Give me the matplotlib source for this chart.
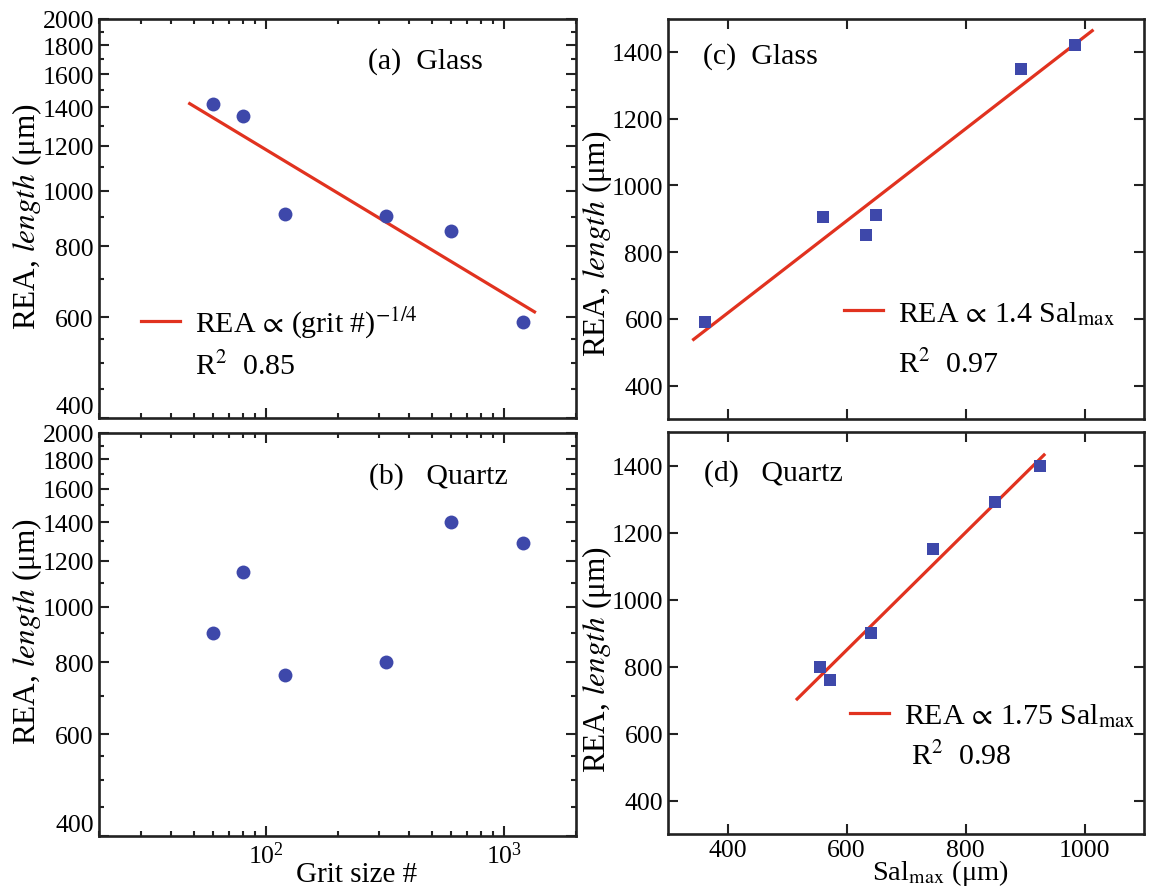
import numpy as np
import matplotlib
matplotlib.use("Agg")
import matplotlib.pyplot as plt
from matplotlib.lines import Line2D
from matplotlib.ticker import FixedLocator, FixedFormatter, LogLocator, NullFormatter

plt.rcParams['font.family'] = ['Liberation Serif', 'DejaVu Serif']
plt.rcParams['mathtext.fontset'] = 'stix'

# ---------------- data ----------------
grit = [60, 80, 120, 320, 600, 1200]
rea_glass = [1420, 1350, 910, 905, 850, 590]
rea_quartz = [900, 1150, 760, 800, 1400, 1290]

salmax_glass = [363, 560, 632, 649, 894, 984]
salmax_quartz = [555, 572, 641, 745, 850, 925]
rea_glass_c = [590, 905, 850, 910, 1350, 1420]
rea_quartz_d = [800, 760, 900, 1150, 1290, 1400]

fit_range_a = [48, 1340]
fit_range_c = [343, 1013]
fit_range_d = [517, 932]

label_a = r"REA$\,\propto\,$(grit #)$^{-1/4}$"
label_c = r"REA$\,\propto\,$1.4 Sal$_{\rm max}$"
label_d = r"REA$\,\propto\,$1.75 Sal$_{\rm max}$"
r2_a = r"R$^2$  0.85"
r2_c = r"R$^2$  0.97"
r2_d = r" R$^2$  0.98"

log_y_major = [400, 600, 800, 1000, 1200, 1400, 1600, 1800, 2000]
log_y_minor = [450, 500, 550, 700, 900, 1100, 1300, 1500, 1700, 1900]
lin_x_ticks = [400, 600, 800, 1000]
lin_y_ticks = [400, 600, 800, 1000, 1200, 1400]

BLUE = '#3e48aa'
RED = '#e1321f'
TICKFS = 18.5
LABFS = 22.5
TXTFS = 21.5

W, H = 1153, 887
fig = plt.figure(figsize=(W / 100, H / 100), dpi=100)


def rect(l, r, t, b):
    return [l / W, 1 - b / H, (r - l) / W, (b - t) / H]


ax_a = fig.add_axes(rect(99, 576, 20, 419))
ax_b = fig.add_axes(rect(99, 576, 434, 837))
ax_c = fig.add_axes(rect(668, 1144, 19.5, 420))
ax_d = fig.add_axes(rect(668, 1144, 433, 835))

ylabel = r"REA, $\mathit{length}$ (μm)"


def style(ax):
    for s in ax.spines.values():
        s.set_linewidth(1.9)
        s.set_color('#222222')
    ax.tick_params(which='both', direction='in', top=True, right=True,
                   labelsize=TICKFS, pad=3.6, color='#222222', width=1.5)
    ax.tick_params(which='major', length=7)
    ax.tick_params(which='minor', length=3.5)


# ---- log panels (a), (b) ----
for ax, yv in ((ax_a, rea_glass), (ax_b, rea_quartz)):
    ax.set_xscale('log')
    ax.set_yscale('log')
    ax.set_xlim(20, 2000)
    ax.set_ylim(400, 2000)
    ax.plot(grit, yv, 'o', color=BLUE, markersize=10, markeredgewidth=0, zorder=3)
    ax.yaxis.set_major_locator(FixedLocator(log_y_major))
    ax.yaxis.set_major_formatter(FixedFormatter([str(v) for v in log_y_major]))
    ax.yaxis.set_minor_locator(FixedLocator(log_y_minor))
    ax.yaxis.set_minor_formatter(NullFormatter())
    ax.xaxis.set_major_locator(LogLocator(base=10, numticks=10))
    ax.xaxis.set_minor_locator(LogLocator(base=10, subs=np.arange(2, 10), numticks=10))
    ax.xaxis.set_minor_formatter(NullFormatter())
    style(ax)
    ax.set_ylabel(ylabel, fontsize=LABFS, va='center')
    # bottom label sits inside the axis end
    ticks = ax.yaxis.get_major_ticks()
    ticks[0].label1.set_va('bottom')

ax_a.yaxis.set_label_coords(-0.151, 0.506)
ax_b.yaxis.set_label_coords(-0.151, 0.509)
ax_a.tick_params(labelbottom=False)

# fit (a): power law in log space
pa = np.polyfit(np.log10(grit), np.log10(rea_glass), 1)
xa = np.array(fit_range_a, dtype=float)
ax_a.plot(xa, 10 ** np.polyval(pa, np.log10(xa)), color=RED, lw=2.3, zorder=2)

ax_a.text(0.564, 0.895, "(a)  Glass", transform=ax_a.transAxes, fontsize=TXTFS,
          va='center', ha='left')
ax_b.text(0.566, 0.894, "(b)   Quartz", transform=ax_b.transAxes, fontsize=TXTFS,
          va='center', ha='left')

ax_b.set_xlabel("Grit size #", fontsize=21, va='top')
ax_b.xaxis.set_label_coords(0.541, -0.062)

# ---- linear panels (c), (d) ----
for ax, xv, yv in ((ax_c, salmax_glass, rea_glass_c), (ax_d, salmax_quartz, rea_quartz_d)):
    ax.set_xlim(300, 1100)
    ax.set_ylim(300, 1500)
    ax.plot(xv, yv, 's', color=BLUE, markersize=8.5, markeredgewidth=0, zorder=3)
    ax.set_xticks(lin_x_ticks)
    ax.set_yticks(lin_y_ticks)
    style(ax)
    ax.set_ylabel(ylabel, fontsize=LABFS, va='center')

ax_c.yaxis.set_label_coords(-0.15, 0.44)
ax_d.yaxis.set_label_coords(-0.15, 0.435)
ax_c.tick_params(labelbottom=False)

pc = np.polyfit(salmax_glass, rea_glass_c, 1)
xc = np.array(fit_range_c, dtype=float)
ax_c.plot(xc, np.polyval(pc, xc), color=RED, lw=2.3, zorder=2)

pdd = np.polyfit(salmax_quartz, rea_quartz_d, 1)
xd = np.array(fit_range_d, dtype=float)
ax_d.plot(xd, np.polyval(pdd, xd), color=RED, lw=2.3, zorder=2)

ax_c.text(0.074, 0.907, "(c)  Glass", transform=ax_c.transAxes, fontsize=TXTFS,
          va='center', ha='left')
ax_d.text(0.076, 0.90, "(d)   Quartz", transform=ax_d.transAxes, fontsize=TXTFS,
          va='center', ha='left')

ax_d.set_xlabel(r"Sal$_{\rm max}$ (μm)", fontsize=20.5, va='top')
ax_d.xaxis.set_label_coords(0.571, -0.056)


# ---- legends ----
def add_legend(ax, label, r2, x, y, spacing):
    h1 = Line2D([], [], color=RED, lw=2.3)
    h2 = Line2D([], [], color='none')
    ax.legend([h1, h2], [label, r2], loc='upper left', bbox_to_anchor=(x, y),
              frameon=False, fontsize=TXTFS, handlelength=1.3, handletextpad=0.5,
              borderpad=0, borderaxespad=0, labelspacing=spacing)


add_legend(ax_a, label_a, r2_a, 0.088, 0.285, 0.4)
add_legend(ax_c, label_c, r2_c, 0.37, 0.30, 0.75)
add_legend(ax_d, label_d, r2_d, 0.383, 0.33, 0.4)

fig.savefig("out.png", dpi=100)
